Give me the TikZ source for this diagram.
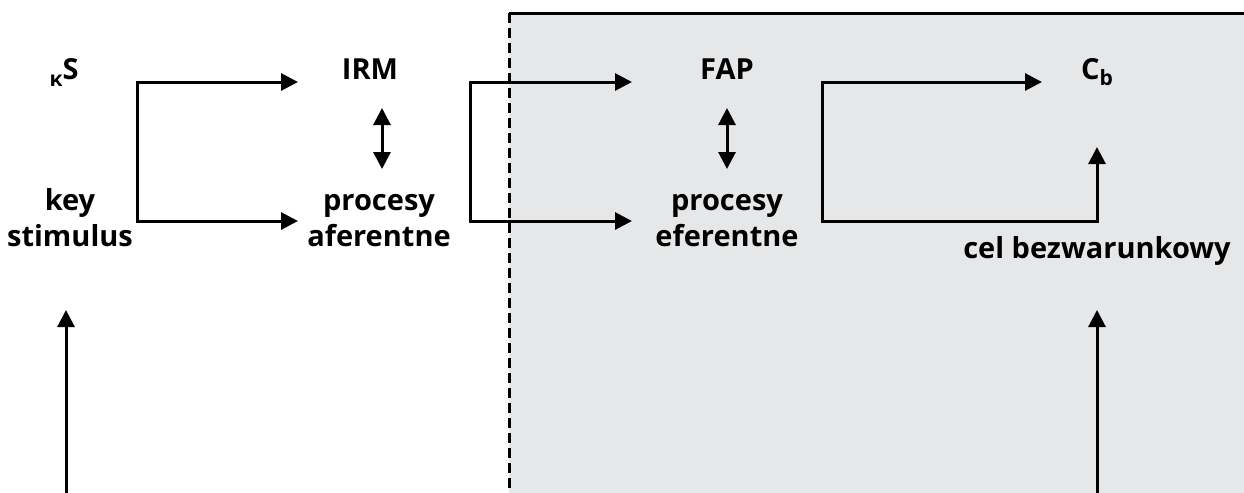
\documentclass[tikz,border=0pt]{standalone}
\usepackage{fontspec}
\setmainfont{Open Sans}
\usetikzlibrary{arrows.meta}

\definecolor{panelgray}{HTML}{E6E7E8}

\tikzset{
	lbl/.style={font=\bfseries\fontsize{14.5}{18}\selectfont, inner sep=0pt, align=center, anchor=base},
	arr/.style={line width=1.5pt, -{Triangle[length=8.5pt,width=8.5pt]}},
	dblarr/.style={line width=1.5pt, {Triangle[length=8.5pt,width=8.5pt]}-{Triangle[length=8.5pt,width=8.5pt]}},
	bracket/.style={line width=1.5pt, {Triangle[length=8.5pt,width=8.5pt]}-{Triangle[length=8.5pt,width=8.5pt]}, line join=miter}
}

\newcommand{\lowsub}[2]{\raisebox{#1}{\fontsize{10.5}{12}\selectfont #2}}

\begin{document}
\begin{tikzpicture}[x=0.5pt,y=-0.5pt]
	\useasboundingbox (0,0) rectangle (1244,493);

	% panel on the right
	\fill[panelgray] (509,13) rectangle (1244,493);
	\draw[line width=1.5pt] (509,13) -- (1244,13);
	\draw[line width=1.5pt, dash pattern=on 5pt off 2.5pt] (509,13) -- (509,493);

	% labels
	\node[lbl] (ks) at (64,79) {\lowsub{-3.5pt}{κ}S};
	\node[lbl] (irm) at (370,79) {IRM};
	\node[lbl] (fap) at (727,79) {FAP};
	\node[lbl] (cb) at (1097,79) {C\lowsub{-3pt}{b}};
	\node[lbl] (stim) at (70,246) {key\\stimulus};
	\node[lbl] (aff) at (379,246) {procesy\\aferentne};
	\node[lbl] (eff) at (727,246) {procesy\\eferentne};
	\node[lbl] (goal) at (1097,258) {cel bezwarunkowy};

	% free ends
	\coordinate (in1) at (66,493);
	\coordinate (in1e) at (66,310);
	\coordinate (in2) at (1097,493);
	\coordinate (in2e) at (1097,310);

	% brackets
	\draw[bracket] (298,82) -- (137,82) -- (137,221) -- (298,221);
	\draw[bracket] (632,82) -- (470,82) -- (470,221) -- (632,221);
	\draw[bracket] (1042,82) -- (822,82) -- (822,221) -- (1097,221) -- (1097,147);

	% irm <-> procesy, fap <-> procesy
	\draw[dblarr] (382,108) -- (382,169);
	\draw[dblarr] (727,108) -- (727,169);

	% inputs from below
	\draw[arr] (in1) -- (in1e);
	\draw[arr] (in2) -- (in2e);
\end{tikzpicture}
\end{document}
